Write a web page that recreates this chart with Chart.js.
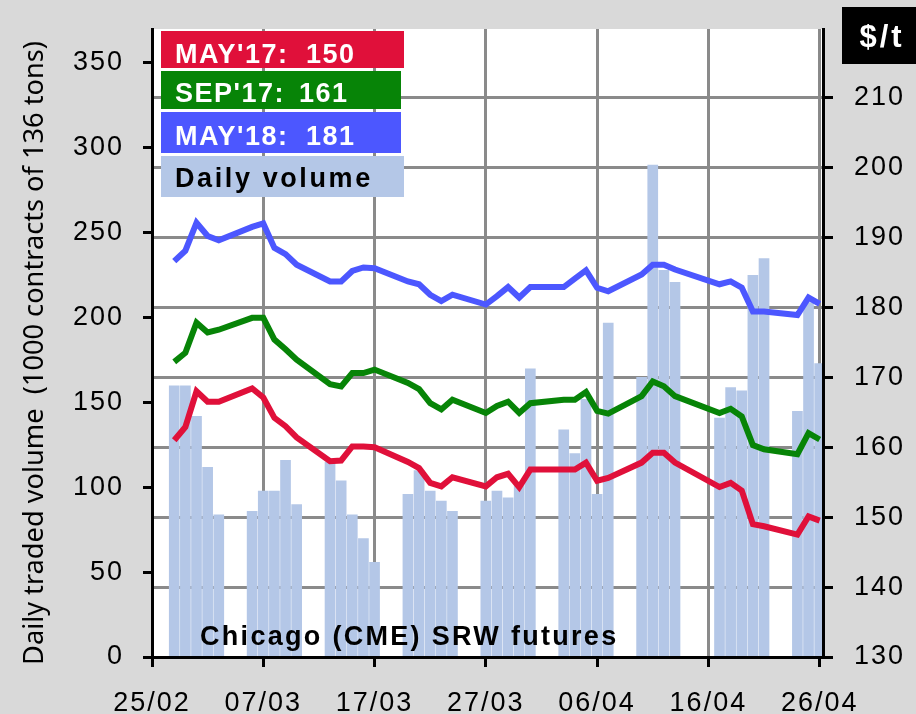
<!DOCTYPE html>
<html>
<head>
<meta charset="utf-8">
<script src="https://cdn.jsdelivr.net/npm/chart.js@4.4.1/dist/chart.umd.min.js"></script>
<style>
  html, body { margin: 0; padding: 0; background: #d9d9d9; }
  #wrap { width: 916px; height: 714px; }
</style>
</head>
<body>
<div id="wrap"><canvas id="chart" width="916" height="714"></canvas></div>
<script>
// Trading days, counted in days after 25/02 (2017)
const days = [2, 3, 4, 5, 6, 9, 10, 11, 12, 13, 16, 17, 18, 19, 20, 23, 24, 25, 26, 27,
              30, 31, 32, 33, 34, 37, 38, 39, 40, 41, 44, 45, 46, 47, 51, 52, 53, 54, 55,
              58, 59, 60];

// Daily traded volume (1000 contracts)
const volume = [160, 160, 142, 112, 84, 86, 98, 98, 116, 90, 115, 104, 84, 70, 56,
                96, 110, 98, 92, 86, 92, 98, 94, 103, 170, 134, 120, 152, 96, 197,
                165, 290, 228, 221, 141, 159, 157, 225, 235, 145, 209, 173];

// Futures prices, $/t
const may17 = [161.0, 162.9, 168.0, 166.5, 166.5, 168.4, 167.1, 164.2, 163.0, 161.4,
               158.0, 158.1, 160.1, 160.1, 160.0, 157.9, 157.0, 154.9, 154.4, 155.7,
               154.4, 155.7, 156.2, 154.3, 156.8, 156.8, 156.8, 157.8, 155.2, 155.6,
               157.8, 159.2, 159.2, 157.8, 154.3, 154.9, 153.8, 149.0, 148.7,
               147.5, 150.1, 149.5];
const sep17 = [172.2, 173.5, 177.8, 176.4, 176.8, 178.5, 178.5, 175.4, 174.0, 172.5,
               169.0, 168.7, 170.6, 170.6, 171.1, 169.2, 168.3, 166.3, 165.4, 166.8,
               164.9, 165.9, 166.5, 164.9, 166.3, 166.8, 166.8, 167.9, 165.2, 164.8,
               167.3, 169.4, 168.7, 167.3, 164.9, 165.5, 164.4, 160.3, 159.7,
               159.0, 162.0, 161.1];
const may18 = [186.6, 188.1, 192.1, 190.2, 189.6, 191.5, 192.0, 188.5, 187.6, 186.1,
               183.7, 183.7, 185.2, 185.7, 185.6, 183.7, 183.3, 181.8, 180.9, 181.8,
               180.4, 181.6, 182.9, 181.4, 182.9, 182.9, 184.1, 185.3, 182.8, 182.3,
               184.7, 186.1, 186.1, 185.4, 183.3, 183.7, 182.8, 179.4, 179.4,
               178.9, 181.4, 180.5];

const dateTicks = ['25/02', '07/03', '17/03', '27/03', '06/04', '16/04', '26/04'];
const legendLabels = ["MAY'17:", "SEP'17:", "MAY'18:", 'Daily volume'];
const legendValues = ['150', '161', '181', ''];

const RED = '#e0103a';
const GREEN = '#078407';
const BLUE = '#4c57ff';
const BAR = '#b4c7e7';
const GRID = '#8a8a8a';

Chart.defaults.font.family = "'Liberation Sans', Arial, sans-serif";
Chart.defaults.color = '#000';

const pts = (arr) => days.map((d, i) => ({ x: d, y: arr[i] }));

// fixed axis box sizes, no extra label padding around the plot
const fixBox = (w, h) => (s) => {
    if (w) s.width = w;
    if (h) s.height = h;
    s.paddingTop = 0;
    s.paddingBottom = 0;
    s.paddingLeft = 0;
    s.paddingRight = 0;
};

// white plot area, letter spacing, legend boxes and captions
const decorations = {
    id: 'decorations',
    afterInit(chart) {
        chart.ctx.letterSpacing = '2px';
    },
    beforeDraw(chart) {
        const { ctx, chartArea: a } = chart;
        ctx.letterSpacing = '2px';
        ctx.save();
        ctx.fillStyle = '#fff';
        ctx.fillRect(a.left, a.top, a.right - a.left, a.bottom - a.top);
        ctx.restore();
    },
    afterDraw(chart) {
        const ctx = chart.ctx;
        ctx.save();

        // legend boxes
        const boxes = [
            { x: 161, y: 31, w: 243, h: 37, c: RED, t: '#fff', vx: 306 },
            { x: 161, y: 71, w: 240, h: 38, c: GREEN, t: '#fff', vx: 299 },
            { x: 161, y: 112, w: 240, h: 41, c: BLUE, t: '#fff', vx: 306 },
            { x: 161, y: 156, w: 243, h: 41, c: BAR, t: '#000', vx: 0 }
        ];
        const baselines = [63, 102, 145, 187];
        ctx.font = "bold 27px 'Liberation Sans', Arial, sans-serif";
        ctx.textBaseline = 'alphabetic';
        ctx.textAlign = 'left';
        boxes.forEach((b, i) => {
            ctx.fillStyle = b.c;
            ctx.fillRect(b.x, b.y, b.w, b.h);
            ctx.fillStyle = b.t;
            ctx.letterSpacing = legendValues[i] ? '1.5px' : '2.6px';
            ctx.fillText(legendLabels[i], 175, baselines[i]);
            if (legendValues[i]) ctx.fillText(legendValues[i], b.vx, baselines[i]);
        });

        // chart caption
        ctx.fillStyle = '#000';
        ctx.letterSpacing = '2.3px';
        ctx.fillText('Chicago (CME) SRW futures', 200, 645);

        // unit box of right axis
        ctx.fillRect(842, 7, 74, 57);
        ctx.fillStyle = '#fff';
        ctx.font = "bold 31px 'Liberation Sans', Arial, sans-serif";
        ctx.letterSpacing = '3px';
        ctx.textAlign = 'center';
        ctx.fillText('$/t', 882, 47);

        // left axis title
        const title = 'Daily traded volume  (1000 contracts of 136 tons)';
        ctx.letterSpacing = '0px';
        ctx.font = "20px 'Noto Sans', sans-serif";
        const w = ctx.measureText(title).width;
        const size = 20 * 624 / w;
        ctx.font = size.toFixed(1) + "px 'Noto Sans', sans-serif";
        ctx.fillStyle = '#000';
        ctx.translate(35, 353);
        ctx.rotate(-Math.PI / 2);
        ctx.textBaseline = 'middle';
        ctx.fillText(title, 0, 0);
        ctx.restore();
    }
};

const ctx = document.getElementById('chart').getContext('2d');
new Chart(ctx, {
    type: 'bar',
    data: {
        datasets: [
            { type: 'line', label: "MAY'17", data: pts(may17), yAxisID: 'y2', borderColor: RED,
              borderWidth: 6, pointRadius: 0, order: 1 },
            { type: 'line', label: "SEP'17", data: pts(sep17), yAxisID: 'y2', borderColor: GREEN,
              borderWidth: 6, pointRadius: 0, order: 1 },
            { type: 'line', label: "MAY'18", data: pts(may18), yAxisID: 'y2', borderColor: BLUE,
              borderWidth: 6, pointRadius: 0, order: 1 },
            { type: 'bar', label: 'Daily volume', data: pts(volume), yAxisID: 'y', backgroundColor: BAR,
              borderWidth: 0, barPercentage: 0.96, categoryPercentage: 1, order: 2 }
        ]
    },
    options: {
        responsive: false,
        animation: false,
        layout: { padding: { top: 29, left: 0, right: 0, bottom: 0 } },
        plugins: {
            legend: { display: false },
            tooltip: { enabled: false }
        },
        scales: {
            x: {
                type: 'linear',
                min: 0,
                max: 60.3,
                offset: false,
                grid: {
                    offset: false,
                    color: (c) => (c.tick && c.tick.value === 0 ? 'rgba(0,0,0,0)' : GRID),
                    lineWidth: 3,
                    tickColor: '#000',
                    tickWidth: 3,
                    tickLength: 10
                },
                border: { color: '#000', width: 3, z: 1 },
                ticks: {
                    stepSize: 10,
                    includeBounds: false,
                    autoSkip: false,
                    maxRotation: 0,
                    padding: 20,
                    font: { size: 27 },
                    callback: (v) => dateTicks[Math.round(v / 10)] || ''
                },
                afterFit: fixBox(0, 57)
            },
            y: {
                position: 'left',
                min: 0,
                max: 370,
                grid: {
                    drawOnChartArea: false,
                    tickColor: '#000',
                    tickWidth: 3,
                    tickLength: 9
                },
                border: { color: '#000', width: 3, z: 1 },
                ticks: {
                    stepSize: 50,
                    includeBounds: false,
                    padding: 19,
                    font: { size: 27 }
                },
                afterFit: fixBox(152, 0)
            },
            y2: {
                position: 'right',
                min: 130,
                max: 219.8,
                grid: {
                    color: GRID,
                    lineWidth: 3,
                    tickColor: '#000',
                    tickWidth: 3,
                    tickLength: 10
                },
                border: { color: '#000', width: 3, z: 1 },
                ticks: {
                    stepSize: 10,
                    includeBounds: false,
                    padding: 21,
                    font: { size: 27 }
                },
                afterFit: fixBox(93, 0)
            }
        }
    },
    plugins: [decorations]
});
</script>
</body>
</html>
